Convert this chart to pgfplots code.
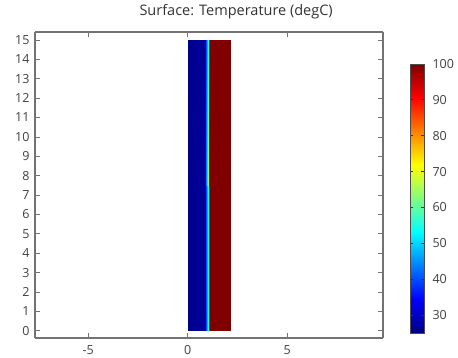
\documentclass[border=0pt]{standalone}
\usepackage{fontspec}
\setmainfont{Open Sans}
\usepackage{pgfplots}
\pgfplotsset{compat=1.18}
\begin{document}
\begin{tikzpicture}
\begin{axis}[
 at={(0,0)}, anchor=south west,
 scale only axis, width=348pt, height=306pt,
 xmin=-7.68, xmax=9.82, ymin=-0.37, ymax=15.41,
 view={0}{90},
 xtick={-5,0,5}, ytick={0,1,...,15},
 tick align=inside, major tick length=5pt,
 axis line style={draw=black!55, line width=1.1pt},
 every tick/.style={black!55, line width=0.8pt},
 tick label style={font=\fontsize{12.5}{14}\selectfont, text=black!75},
 xticklabel style={yshift=-4pt},
 yticklabel style={xshift=-2pt},
 /pgf/number format/assume math mode=true,
 colormap/jet, point meta min=25, point meta max=100,
 colorbar,
 colorbar style={
   at={(1.0776,0.0163)}, anchor=south west,
   scale only axis, width=14pt, height=269pt,
   xtick=\empty, ytick={30,40,...,100},
   ytick pos=both, yticklabel pos=right,
   tick align=inside, major tick length=3pt,
   every tick/.style={black!80, line width=0.8pt},
   axis line style={draw=black!70, line width=0.6pt},
   /pgf/number format/assume math mode=true,
   yticklabel style={xshift=5pt, font=\fontsize{12.5}{14}\selectfont, text=black!75},
 },
 title={Surface: Temperature (degC)},
 title style={at={(0.578,1)}, anchor=base, yshift=10pt, inner sep=0pt,
   font=\fontsize{14.5}{16}\selectfont, text=black!80},
]
\addplot3[surf, shader=interp, mesh/rows=2] table[row sep=\\] {
x y T\\
0 0 26\\
0.85 0 27\\
0.92 0 40\\
0.98 0 47\\
1.02 0 55\\
1.05 0 72\\
1.08 0 90\\
1.11 0 100\\
2.15 0 100\\
0 15 26\\
0.85 15 27\\
0.92 15 40\\
0.98 15 47\\
1.02 15 55\\
1.05 15 72\\
1.08 15 90\\
1.11 15 100\\
2.15 15 100\\
};
\end{axis}
\pgfresetboundingbox
\path[use as bounding box] (-35pt,-20pt) rectangle (423pt,338pt);
\end{tikzpicture}
\end{document}
